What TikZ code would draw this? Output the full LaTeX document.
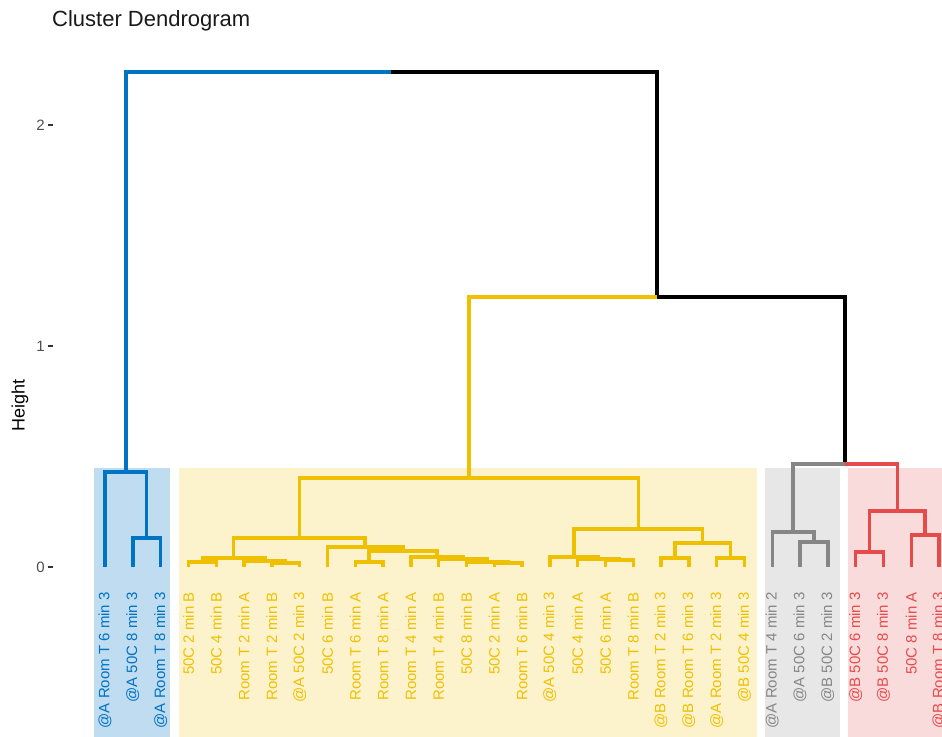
\documentclass[tikz,border=0pt]{standalone}
\usepackage{fontspec}
\setmainfont{Liberation Sans}
\definecolor{cblue}{RGB}{0,115,194}
\definecolor{cyel}{RGB}{239,192,0}
\definecolor{cgrey}{RGB}{134,134,134}
\definecolor{cred}{RGB}{230,75,75}
\definecolor{axtxt}{RGB}{77,77,77}
\begin{document}
\begin{tikzpicture}[x=1pt,y=-1pt,
  br/.style={line width=3.4pt},
  lab/.style={rotate=90,anchor=east,inner sep=0pt,font=\fontsize{15}{18}\selectfont},
  ticklab/.style={anchor=east,inner sep=0pt,text=axtxt,font=\fontsize{15}{18}\selectfont},
  tickmark/.style={line width=1.2pt,draw=black!80}]
\useasboundingbox (0,0) rectangle (942,736);
\clip (0,0) rectangle (942,736);
% cluster boxes
\fill[cblue!25] (94,468) rectangle (170,740);
\fill[cyel!20] (179,468) rectangle (757,740);
\fill[cgrey!20] (765,468) rectangle (840,740);
\fill[cred!20] (848,468) rectangle (950,740);
% title and axis
\node[anchor=base west,inner sep=0pt,font=\fontsize{22}{26}\selectfont,text=black!90] (title) at (52,27) {Cluster Dendrogram};
\node[rotate=90,inner sep=0pt,font=\fontsize{18}{22}\selectfont] (ylab) at (20,405) {Height};
\node[ticklab] (tk2) at (45,125) {2};
\node[ticklab] (tk1) at (45,346) {1};
\node[ticklab] (tk0) at (45,567) {0};
\draw[tickmark] (48,125) -- (53,125);
\draw[tickmark] (48,346) -- (53,346);
\draw[tickmark] (48,567) -- (53,567);
% leaves
\foreach \i in {0,...,30} \coordinate (l\i) at ({105+27.8*\i},567);
% merge points
\coordinate (b1) at (146.7,538);
\coordinate (b0) at (125.85,472);
\coordinate (y34) at (202.3,562);
\coordinate (y67) at (285.7,563);
\coordinate (y567) at (264.85,561);
\coordinate (yA) at (233.58,558);
\coordinate (y910) at (369.1,562);
\coordinate (y1415) at (508.1,563);
\coordinate (y1315) at (487.25,562);
\coordinate (y1215) at (462.93,559);
\coordinate (y1115) at (436.86,557);
\coordinate (y915) at (402.98,551);
\coordinate (yB) at (365.19,547);
\coordinate (yL) at (299.38,538);
\coordinate (y1819) at (619.3,560);
\coordinate (y1719) at (598.45,559);
\coordinate (yC) at (574.13,557);
\coordinate (y2021) at (674.9,558);
\coordinate (y2223) at (730.5,558);
\coordinate (yD) at (702.7,543);
\coordinate (yR) at (638.41,529);
\coordinate (yT) at (468.9,478);
\coordinate (g2526) at (813.9,542);
\coordinate (gT) at (793.05,532);
\coordinate (r2728) at (869.5,552);
\coordinate (r2930) at (925.1,535);
\coordinate (rT) at (897.3,511);
\coordinate (gr) at (845.18,464);
\coordinate (k1) at (657.04,297);
\coordinate (top) at (391.45,72);
% top level
\draw[br,cblue] (top) -| (b0);
\draw[br,black] (top) -| (k1);
\draw[br,cyel] (k1) -| (yT);
\draw[br,black] (k1) -| (gr);
\draw[br,cgrey] (gr) -| (gT);
\draw[br,cred] (gr) -| (rT);
% blue cluster
\draw[br,cblue] (b0) -| (l0);
\draw[br,cblue] (b0) -| (b1);
\draw[br,cblue] (b1) -| (l1);
\draw[br,cblue] (b1) -| (l2);
% yellow cluster
\foreach \p/\c in {yT/yL,yT/yR,yL/yA,yL/yB,yA/y34,yA/y567,y34/l3,y34/l4,y567/l5,y567/y67,y67/l6,y67/l7,
  yB/l8,yB/y915,y915/y910,y915/y1115,y910/l9,y910/l10,y1115/l11,y1115/y1215,y1215/l12,y1215/y1315,
  y1315/l13,y1315/y1415,y1415/l14,y1415/l15,
  yR/yC,yR/yD,yC/l16,yC/y1719,y1719/l17,y1719/y1819,y1819/l18,y1819/l19,
  yD/y2021,yD/y2223,y2021/l20,y2021/l21,y2223/l22,y2223/l23}
  \draw[br,cyel] (\p) -| (\c);
% grey cluster
\draw[br,cgrey] (gT) -| (l24);
\draw[br,cgrey] (gT) -| (g2526);
\draw[br,cgrey] (g2526) -| (l25);
\draw[br,cgrey] (g2526) -| (l26);
% red cluster
\draw[br,cred] (rT) -| (r2728);
\draw[br,cred] (rT) -| (r2930);
\draw[br,cred] (r2728) -| (l27);
\draw[br,cred] (r2728) -| (l28);
\draw[br,cred] (r2930) -| (l29);
\draw[br,cred] (r2930) -| (l30);
% labels
\foreach \t [count=\k from 0] in {{@A Room T 6 min 3},{@A 50C 8 min 3},{@A Room T 8 min 3}}
  \node[lab,text=cblue] (t\k) at ({105+27.8*\k},592) {\t};
\foreach \t [count=\k from 3] in {{50C 2 min B},{50C 4 min B},{Room T 2 min A},{Room T 2 min B},{@A 50C 2 min 3},{50C 6 min B},{Room T 6 min A},{Room T 8 min A},{Room T 4 min A},{Room T 4 min B},{50C 8 min B},{50C 2 min A},{Room T 6 min B},{@A 50C 4 min 3},{50C 4 min A},{50C 6 min A},{Room T 8 min B},{@B Room T 2 min 3},{@B Room T 6 min 3},{@A Room T 2 min 3},{@B 50C 4 min 3}}
  \node[lab,text=cyel] (t\k) at ({105+27.8*\k},592) {\t};
\foreach \t [count=\k from 24] in {{@A Room T 4 min 2},{@A 50C 6 min 3},{@B 50C 2 min 3}}
  \node[lab,text=cgrey] (t\k) at ({105+27.8*\k},592) {\t};
\foreach \t [count=\k from 27] in {{@B 50C 6 min 3},{@B 50C 8 min 3},{50C 8 min A},{@B Room T 8 min 3}}
  \node[lab,text=cred] (t\k) at ({105+27.8*\k},592) {\t};
\end{tikzpicture}
\end{document}
